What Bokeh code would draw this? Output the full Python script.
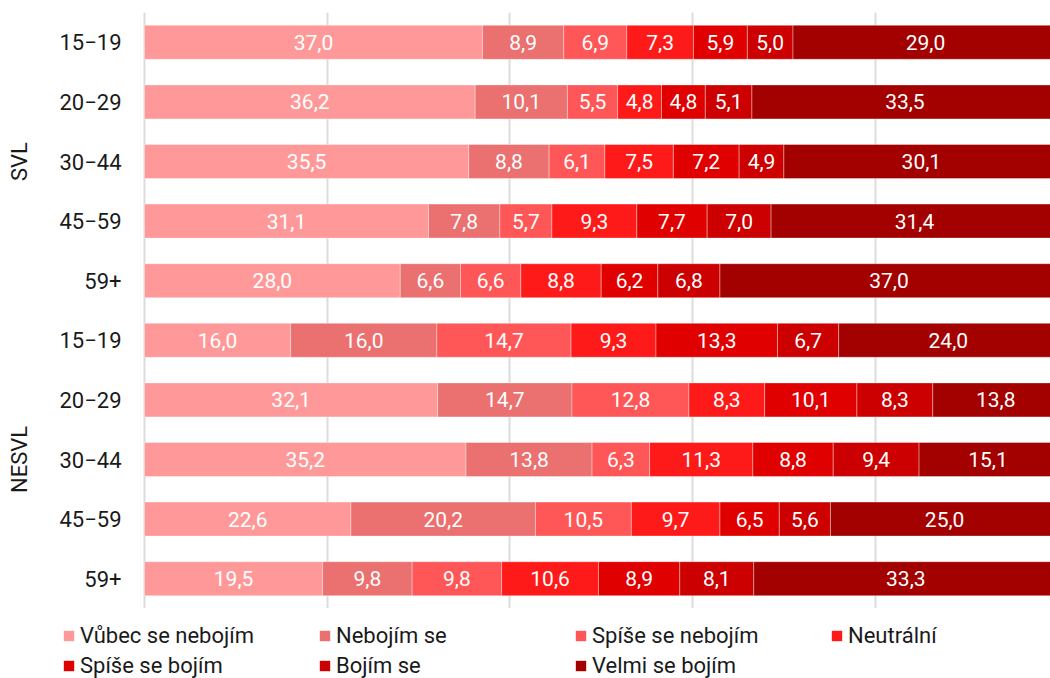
from math import pi
from bokeh.plotting import figure
from bokeh.layouts import column
from bokeh.models import ColumnDataSource, FixedTicker, Grid, Legend, LegendItem, Range1d
from bokeh.core.properties import value
from bokeh.embed import file_html
from bokeh.resources import INLINE

series = ["Vůbec se nebojím", "Nebojím se", "Spíše se nebojím", "Neutrální",
          "Spíše se bojím", "Bojím se", "Velmi se bojím"]
colors = ["#FF9999", "#EB7070", "#FF5757", "#FF1A1A", "#E00000", "#CC0000", "#A30000"]

groups = ["SVL", "NESVL"]
ages = ["15−19", "20−29", "30−44", "45−59", "59+"]

# rows top to bottom: SVL ages then NESVL ages
vubec    = [37.0, 36.2, 35.5, 31.1, 28.0, 16.0, 32.1, 35.2, 22.6, 19.5]
nebojim  = [8.9, 10.1, 8.8, 7.8, 6.6, 16.0, 14.7, 13.8, 20.2, 9.8]
spise_ne = [6.9, 5.5, 6.1, 5.7, 6.6, 14.7, 12.8, 6.3, 10.5, 9.8]
neutral  = [7.3, 4.8, 7.5, 9.3, 8.8, 9.3, 8.3, 11.3, 9.7, 10.6]
spise_bo = [5.9, 4.8, 7.2, 7.7, 6.2, 13.3, 10.1, 8.8, 6.5, 8.9]
bojim    = [5.0, 5.1, 4.9, 7.0, 6.8, 6.7, 8.3, 9.4, 5.6, 8.1]
velmi    = [29.0, 33.5, 30.1, 31.4, 37.0, 24.0, 13.8, 15.1, 25.0, 33.3]

data = [vubec, nebojim, spise_ne, neutral, spise_bo, bojim, velmi]
tick_labels = ages + ages
n = len(tick_labels)
ys = [n - i - 0.5 for i in range(n)]
group_ys = [7.5, 2.5]
x_ticks = [0, 20, 40, 60, 80, 100]

FONT = "Roboto"
TXT = "#1a1a1a"
PX_PER_UNIT = 9.134
LEFT_PX = 144

p = figure(width=1050, height=608, output_backend="svg", toolbar_location=None,
           x_range=Range1d(-LEFT_PX / PX_PER_UNIT, (1050 - LEFT_PX) / PX_PER_UNIT),
           y_range=Range1d(0, n),
           x_axis_location=None, y_axis_location=None,
           min_border=0, min_border_top=12)
p.outline_line_color = None
p.xgrid.visible = False
p.ygrid.visible = False
p.add_layout(Grid(dimension=0, ticker=FixedTicker(ticks=x_ticks),
                  grid_line_color="#dcdcdc", grid_line_width=2))

# category labels (age bands) and group labels, positioned at the x origin
p.text(x=[0] * n, y=ys, text=tick_labels, x_offset=-23,
       text_align="right", text_baseline="middle",
       text_font=value(FONT), text_font_size="22px", text_color=TXT)
p.text(x=[0] * len(groups), y=group_ys, text=groups, x_offset=-125, angle=pi / 2,
       text_align="center", text_baseline="middle",
       text_font=value(FONT), text_font_size="22px", text_color=TXT)

# separate strip for the legend below the chart
pl = figure(width=1050, height=70, output_backend="svg", toolbar_location=None,
            x_range=Range1d(0, 1), y_range=Range1d(-20, -10),
            x_axis_location=None, y_axis_location=None, min_border=0)
pl.outline_line_color = None
pl.xgrid.visible = False
pl.ygrid.visible = False

left = [0.0] * n
legend_items = []
for name, vals, col in zip(series, data, colors):
    right = [l + v for l, v in zip(left, vals)]
    src = ColumnDataSource(dict(
        y=ys, left=left, right=right,
        mid=[(l + r) / 2 for l, r in zip(left, right)],
        lab=[f"{v:.1f}".replace(".", ",") for v in vals]))
    p.hbar(y="y", left="left", right="right", height=0.57, source=src,
           fill_color=col, line_color="white", line_alpha=0.35, line_width=1)
    p.text(x="mid", y="y", text="lab", source=src, text_color="white",
           text_font=value(FONT), text_font_size="21px",
           text_align="center", text_baseline="middle")
    r2 = pl.hbar(y="y", left="left", right="right", height=0.57, source=src,
                 fill_color=col, line_color=None, visible=False)
    legend_items.append(LegendItem(label=name, renderers=[r2]))
    left = right

# legend fills column by column: order so that rows read left-to-right
order = [0, 4, 1, 5, 2, 6, 3]
legend = Legend(items=[legend_items[i] for i in order], ncols=4, location=(62, 0),
                label_text_font=FONT, label_text_font_size="22px",
                label_text_color=TXT,
                glyph_width=13, glyph_height=13, label_standoff=5,
                label_width=233, label_height=24, spacing=5,
                padding=0, margin=0, border_line_color=None,
                background_fill_alpha=0)
pl.add_layout(legend, "center")

layout = column(p, pl, spacing=0)
open("out.html", "w").write(file_html(layout, INLINE))
